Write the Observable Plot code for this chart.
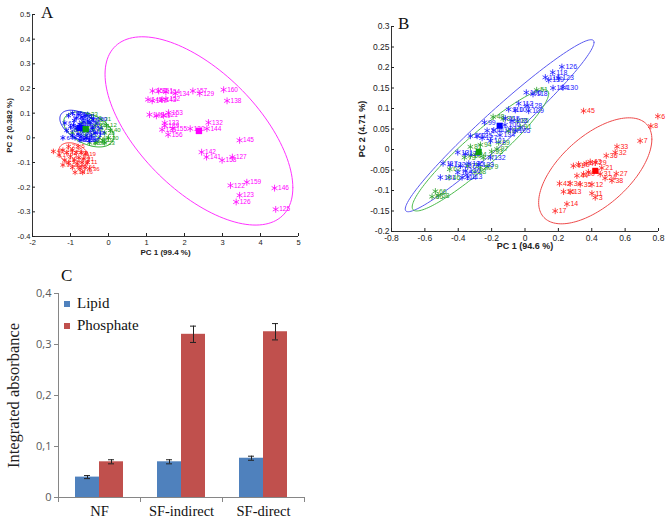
<!DOCTYPE html>
<html><head><meta charset="utf-8">
<script src="https://cdn.jsdelivr.net/npm/d3@7"></script>
<script src="https://cdn.jsdelivr.net/npm/@observablehq/plot@0.6"></script>
<style>
body{margin:0;background:#fff;}
#wrap{position:relative;width:670px;height:521px;overflow:hidden;background:#fff;}
.panel{position:absolute;}
.letter{position:absolute;font-family:"Liberation Serif","DejaVu Serif",serif;font-size:17px;color:#111;line-height:1;}
.leg{position:absolute;font-family:"Liberation Serif","DejaVu Serif",serif;font-size:15px;color:#111;line-height:1;display:flex;align-items:center;}
.sw{display:inline-block;width:6px;height:6px;margin-right:7px;}
</style></head>
<body><div id="wrap">
<div class="panel" id="pA" style="left:0;top:0"></div>
<div class="panel" id="pB" style="left:330px;top:0"></div>
<div class="panel" id="pC" style="left:0;top:260px"></div>
<div class="letter" style="left:41px;top:4px">A</div>
<div class="letter" style="left:398px;top:15px">B</div>
<div class="letter" style="left:61px;top:267px">C</div>
<div class="leg" style="left:64px;top:296px"><span class="sw" style="background:#4f81bd"></span>Lipid</div>
<div class="leg" style="left:64px;top:318px"><span class="sw" style="background:#c0504d"></span>Phosphate</div>
</div>
<script>
// ---------- Panel A data ----------
const xTicksA = [-2,-1,0,1,2,3,4,5];
const yTicksA = [-0.4,-0.3,-0.2,-0.1,0,0.1,0.2,0.3,0.4,0.5];
const magentaA = [[1.16,0.19,"150"],[1.32,0.19,"151"],[1.51,0.186,"154"],[1.76,0.18,"134"],[2.22,0.19,"157"],[2.40,0.18,"129"],[3.03,0.195,"160"],[3.12,0.15,"138"],[1.04,0.155,"148"],[1.15,0.15,"147"],[1.41,0.155,"143"],[1.51,0.156,"152"],[1.08,0.094,"140"],[1.26,0.089,"149"],[1.45,0.091,"121"],[1.58,0.102,"153"],[1.48,0.06,"133"],[1.48,0.049,"139"],[1.41,0.033,"135"],[1.69,0.037,"155"],[1.57,0.013,"156"],[2.15,0.037,"130"],[2.59,0.037,"144"],[2.63,0.062,"132"],[3.45,-0.01,"145"],[2.45,-0.058,"142"],[2.58,-0.078,"141"],[2.99,-0.091,"158"],[3.26,-0.078,"127"],[3.21,-0.193,"122"],[3.64,-0.18,"159"],[3.45,-0.233,"123"],[3.36,-0.26,"126"],[4.37,-0.204,"146"],[4.40,-0.29,"125"]];
const blueA = [[-1.15,0.06,"61"],[-1.05,0.09,"72"],[-0.95,0.1,"65"],[-0.85,0.08,"88"],[-0.78,0.095,"70"],[-0.7,0.085,"93"],[-0.62,0.09,"81"],[-0.55,0.07,"77"],[-0.48,0.06,"99"],[-0.42,0.04,"84"],[-0.35,0.02,"68"],[-1.1,0.03,"90"],[-1.0,0.045,"63"],[-0.92,0.05,"75"],[-0.83,0.04,"97"],[-0.75,0.055,"86"],[-0.68,0.03,"62"],[-0.6,0.045,"79"],[-0.52,0.025,"94"],[-0.45,0.01,"71"],[-0.95,0.01,"66"],[-0.88,0.0,"83"],[-0.8,0.015,"74"],[-0.72,0.005,"91"],[-0.65,-0.005,"69"],[-0.58,0.0,"95"],[-0.5,-0.01,"87"],[-1.2,0.0,"64"],[-0.9,0.07,"78"],[-0.65,0.065,"80"],[-0.4,0.075,"100"],[-0.75,-0.01,"73"]];
const greenA = [[-0.3,0.06,"21"],[-0.2,0.04,"35"],[-0.1,0.02,"28"],[0.0,0.0,"30"],[-0.05,0.05,"12"],[-0.25,0.0,"44"],[-0.15,-0.01,"19"],[-0.35,-0.02,"50"],[-0.45,0.08,"26"],[-0.55,0.095,"33"],[-0.7,0.06,"41"],[-0.85,0.035,"17"],[-0.6,0.01,"38"],[-0.4,0.03,"47"],[-0.3,-0.015,"25"],[-0.2,0.075,"31"],[0.05,0.03,"40"],[-0.1,-0.02,"23"],[-0.5,-0.02,"36"],[-0.95,0.02,"15"],[-0.65,0.04,"29"],[-0.35,0.05,"43"]];
const redA = [[-1.45,-0.055,"45"],[-1.3,-0.07,"17"],[-1.2,-0.05,"14"],[-1.15,-0.09,"13"],[-1.1,-0.06,"42"],[-1.05,-0.1,"12"],[-1.0,-0.075,"3"],[-0.95,-0.05,"29"],[-0.95,-0.12,"38"],[-0.9,-0.09,"27"],[-0.88,-0.14,"34"],[-0.85,-0.06,"43"],[-0.82,-0.105,"32"],[-0.78,-0.08,"33"],[-0.75,-0.125,"7"],[-0.72,-0.06,"8"],[-0.7,-0.1,"6"],[-0.65,-0.085,"21"],[-0.62,-0.12,"24"],[-0.6,-0.065,"19"],[-0.55,-0.1,"11"],[-0.5,-0.125,"36"],[-1.05,-0.035,"2"],[-0.8,-0.035,"5"],[-1.2,-0.11,"9"],[-0.68,-0.14,"16"]];
const centroidsA = [[-0.75,0.04,"#0000ff"],[-0.6,0.035,"#10a010"],[2.38,0.028,"#ff00ff"]];
// ellipse: [cx, cy, ax, ay, bx, by]
const ellMagentaA = [2.38,0.028,2.471,-0.2301,0,0.3045];
const ellBlueA = [-0.745,0.048,0.535,-0.03,0,0.0565];
const ellGreenA = [-0.52,0.034,0.66,-0.03,0,0.0643];
const ellRedA = [-0.91,-0.068,0.4,-0.015,0,0.0456];

// ---------- Panel B data ----------
const xTicksB = [-0.8,-0.6,-0.4,-0.2,0,0.2,0.4,0.6,0.8];
const yTicksB = [-0.2,-0.15,-0.1,-0.05,0,0.05,0.1,0.15,0.2,0.25,0.3];
const blueB = [[0.221,0.2016,"126"],[0.166,0.188,"118"],[0.2015,0.174,"123"],[0.122,0.176,"116"],[0.142,0.169,"139"],[0.168,0.15,"124"],[0.227,0.151,"130"],[0.008,0.139,"106"],[0.048,0.135,"118"],[-0.038,0.112,"112"],[0.012,0.107,"128"],[-0.098,0.098,"110"],[-0.058,0.096,"107"],[0.022,0.094,"109"],[-0.118,0.076,"115"],[-0.243,0.066,"99"],[-0.078,0.07,"103"],[-0.088,0.05,"120"],[-0.058,0.046,"105"],[-0.227,0.046,"104"],[-0.187,0.047,"111"],[-0.327,0.033,"102"],[-0.287,0.033,"125"],[-0.257,0.028,"127"],[-0.207,0.021,"121"],[-0.403,-0.007,"131"],[-0.357,-0.011,"129"],[-0.207,-0.0195,"132"],[-0.491,-0.034,"117"],[-0.447,-0.037,"122"],[-0.387,-0.04,"137"],[-0.337,-0.034,"135"],[-0.277,-0.036,"133"],[-0.403,-0.056,"119"],[-0.357,-0.052,"136"],[-0.507,-0.068,"101"],[-0.377,-0.068,"114"],[-0.343,-0.067,"113"],[-0.15,0.035,"134"],[-0.12,0.06,"100"]];
const greenB = [[-0.191,0.0797,"48"],[-0.044,0.07,"85"],[-0.028,0.055,"91"],[0.07,0.145,"51"],[-0.267,0.0114,"94"],[-0.158,0.017,"89"],[-0.168,0.0008,"97"],[-0.327,0.0065,"81"],[-0.363,-0.0195,"73"],[-0.327,-0.0155,"60"],[-0.297,-0.012,"84"],[-0.343,-0.04,"75"],[-0.267,-0.044,"70"],[-0.227,-0.042,"79"],[-0.451,-0.048,"62"],[-0.455,-0.068,"46"],[-0.537,-0.102,"66"],[-0.557,-0.115,"65"],[-0.52,-0.112,"58"],[-0.1,0.045,"87"],[-0.13,0.075,"86"],[-0.2,-0.005,"93"],[-0.25,-0.02,"77"],[-0.3,-0.055,"68"]];
const redB = [[0.351,0.094,"45"],[0.796,0.081,"6"],[0.754,0.057,"8"],[0.69,0.021,"7"],[0.551,0.007,"33"],[0.541,-0.007,"32"],[0.487,-0.015,"36"],[0.421,-0.032,"29"],[0.391,-0.03,"43"],[0.29,-0.04,"41"],[0.321,-0.036,"40"],[0.367,-0.034,"47"],[0.311,-0.064,"44"],[0.351,-0.06,"30"],[0.451,-0.06,"31"],[0.547,-0.059,"27"],[0.521,-0.076,"38"],[0.207,-0.083,"42"],[0.271,-0.083,"34"],[0.331,-0.085,"35"],[0.401,-0.085,"12"],[0.231,-0.103,"16"],[0.271,-0.103,"13"],[0.401,-0.107,"11"],[0.421,-0.117,"3"],[0.251,-0.133,"14"],[0.181,-0.15,"17"],[0.46,-0.045,"21"],[0.38,-0.055,"28"],[0.48,-0.07,"24"]];
const centroidsB = [[-0.152,0.058,"#0000ff"],[-0.277,-0.006,"#10a010"],[0.421,-0.052,"#ff0000"]];
const ellBlueB = [-0.152,0.058,0.5656,0.2033,0,0.0517];
const ellGreenB = [-0.267,-0.002,0.409,0.1382,0,0.0528];
const ellRedB = [0.421,-0.052,0.3392,0.0772,0,0.1037];

// ---------- Panel C data ----------
const catsC = ["NF","SF-indirect","SF-direct"];
const lipidC = [0.040,0.070,0.077];
const lipidErrC = [0.003,0.004,0.004];
const phosC = [0.070,0.320,0.325];
const phosErrC = [0.004,0.016,0.016];
const yTicksC = [0,0.1,0.2,0.3,0.4];

// ---------- helpers ----------
const sans = "Liberation Sans, Arial, sans-serif";
const serif = "Liberation Serif, DejaVu Serif, serif";
const fmt = d => String(+(+d).toFixed(2));
function ellipsePts(e){
  return d3.range(0,145).map(i=>{const t=i/144*2*Math.PI;
    return {x:e[0]+e[2]*Math.cos(t)+e[4]*Math.sin(t), y:e[1]+e[3]*Math.cos(t)+e[5]*Math.sin(t)};});
}
function ell(e,color){return Plot.line(ellipsePts(e),{x:"x",y:"y",stroke:color,strokeWidth:1});}
function pts(arr,color,fs,r){return [
  Plot.dot(arr,{x:d=>d[0],y:d=>d[1],symbol:"asterisk",r:r,stroke:color,strokeWidth:0.8}),
  Plot.text(arr,{x:d=>d[0],y:d=>d[1],text:d=>d[2],dx:3.5,textAnchor:"start",fill:color,fontSize:fs,fontFamily:sans})
];}
function cents(arr,r){return Plot.dot(arr,{x:d=>d[0],y:d=>d[1],symbol:"square",r:r,fill:d=>d[2],stroke:null});}

// ---------- Panel A ----------
const plotA = Plot.plot({
  width:330,height:260,marginLeft:32,marginRight:32,marginTop:14,marginBottom:24,
  style:{fontFamily:sans,fontSize:"7.5px",color:"#222",background:"transparent"},
  x:{domain:[-2,5]}, y:{domain:[-0.4,0.5]},
  marks:[
    Plot.ruleX([-2],{stroke:"#333"}), Plot.ruleY([-0.4],{stroke:"#333"}),
    Plot.axisX(xTicksA,{tickSize:-3,tickPadding:6,tickFormat:fmt,label:null,fontSize:7.5}),
    Plot.axisY(yTicksA,{tickSize:-3,tickPadding:5,tickFormat:fmt,label:null,fontSize:7.5}),
    Plot.text(["PC 1 (99.4 %)"],{frameAnchor:"bottom",dy:18,text:d=>d,textAnchor:"middle",fontWeight:"bold",fontSize:8,fill:"#222"}),
    Plot.text(["PC 2 (0.382 %)"],{frameAnchor:"left",dx:-23,rotate:-90,text:d=>d,textAnchor:"middle",fontWeight:"bold",fontSize:8,fill:"#222"}),
    ell(ellRedA,"#ff3030"), ...pts(redA,"#ff1a1a",6,2.6),
    ell(ellGreenA,"#22aa22"), ...pts(greenA,"#1aa01a",6,2.6),
    ell(ellBlueA,"#2222ee"), ...pts(blueA,"#0000ff",6,2.6),
    ell(ellMagentaA,"#ff33ff"), ...pts(magentaA,"#ff00ff",6.5,3.2),
    cents(centroidsA,3.6)
  ]
});
document.getElementById("pA").appendChild(plotA);

// ---------- Panel B ----------
const plotB = Plot.plot({
  width:340,height:260,marginLeft:61,marginRight:12,marginTop:26,marginBottom:29,
  style:{fontFamily:sans,fontSize:"9px",color:"#222",background:"transparent"},
  x:{domain:[-0.8,0.8]}, y:{domain:[-0.2,0.3]},
  marks:[
    Plot.ruleX([-0.8],{stroke:"#333"}), Plot.ruleY([-0.2],{stroke:"#333"}),
    Plot.axisX(xTicksB,{tickSize:-3,tickPadding:6,tickFormat:fmt,label:null,fontSize:8.5}),
    Plot.axisY(yTicksB,{tickSize:-3,tickPadding:5,tickFormat:fmt,label:null,fontSize:8.5}),
    Plot.text(["PC 1 (94.6 %)"],{frameAnchor:"bottom",dy:17,text:d=>d,textAnchor:"middle",fontWeight:"bold",fontSize:9,fill:"#222"}),
    Plot.text(["PC 2 (4.71 %)"],{frameAnchor:"left",dx:-29,rotate:-90,text:d=>d,textAnchor:"middle",fontWeight:"bold",fontSize:9,fill:"#222"}),
    ell(ellBlueB,"#5a5af0"), ell(ellGreenB,"#4cbb4c"), ell(ellRedB,"#ee4a4a"),
    ...pts(greenB,"#2aa02a",7,3),
    ...pts(blueB,"#1a1aff",7,3),
    ...pts(redB,"#ff2020",7,3),
    cents(centroidsB,3.4)
  ]
});
document.getElementById("pB").appendChild(plotB);

// ---------- Panel C ----------
const tableC = catsC.map((c,i)=>({cat:c,lipid:lipidC[i],lipidErr:lipidErrC[i],phos:phosC[i],phosErr:phosErrC[i]}));
const plotC = Plot.plot({
  width:330,height:261,marginLeft:58,marginRight:26,marginTop:33,marginBottom:24,
  style:{fontFamily:"Open Sans, Liberation Sans, sans-serif",fontSize:"11px",color:"#595959",background:"transparent"},
  x:{domain:catsC,padding:0}, y:{domain:[0,0.4]},
  marks:[
    Plot.barY(tableC,{x:"cat",y:"lipid",fill:"#4f81bd",insetLeft:17,insetRight:41}),
    Plot.barY(tableC,{x:"cat",y:"phos",fill:"#c0504d",insetLeft:41,insetRight:17}),
    Plot.ruleX(tableC,{x:"cat",y1:d=>d.lipid-d.lipidErr,y2:d=>d.lipid+d.lipidErr,dx:-12,stroke:"#222"}),
    Plot.ruleX(tableC,{x:"cat",y1:d=>d.phos-d.phosErr,y2:d=>d.phos+d.phosErr,dx:12,stroke:"#222"}),
    Plot.tickY(tableC,{x:"cat",y:d=>d.lipid+d.lipidErr,insetLeft:26,insetRight:50,stroke:"#222"}),
    Plot.tickY(tableC,{x:"cat",y:d=>d.lipid-d.lipidErr,insetLeft:26,insetRight:50,stroke:"#222"}),
    Plot.tickY(tableC,{x:"cat",y:d=>d.phos+d.phosErr,insetLeft:50,insetRight:26,stroke:"#222"}),
    Plot.tickY(tableC,{x:"cat",y:d=>d.phos-d.phosErr,insetLeft:50,insetRight:26,stroke:"#222"}),
    Plot.ruleY([0],{stroke:"#868686"}),
    Plot.ruleX(tableC.slice(0,1),{x:"cat",dx:-41,y1:0,y2:0.4,stroke:"#868686"}),
    Plot.ruleX(tableC,{x:"cat",dx:41,y1:0,y2:0,insetBottom:-5,stroke:"#868686"}),
    Plot.ruleX(tableC.slice(0,1),{x:"cat",dx:-41,y1:0,y2:0,insetBottom:-5,stroke:"#868686"}),
    Plot.axisY(yTicksC,{tickSize:4,tickPadding:3,tickFormat:d=>d===0?"0":d.toFixed(1).replace(".",","),label:null,color:"#595959",stroke:"#868686"}),
    Plot.axisX(catsC,{tickSize:0,tickPadding:8,label:null,fontFamily:serif,fontSize:14.5,fill:"#111"}),
    Plot.text(["Integrated absorbance"],{frameAnchor:"left",dx:-45,rotate:-90,text:d=>d,textAnchor:"middle",fontFamily:serif,fontSize:16.5,fill:"#222"})
  ]
});
document.getElementById("pC").appendChild(plotC);
</script>
</body></html>
